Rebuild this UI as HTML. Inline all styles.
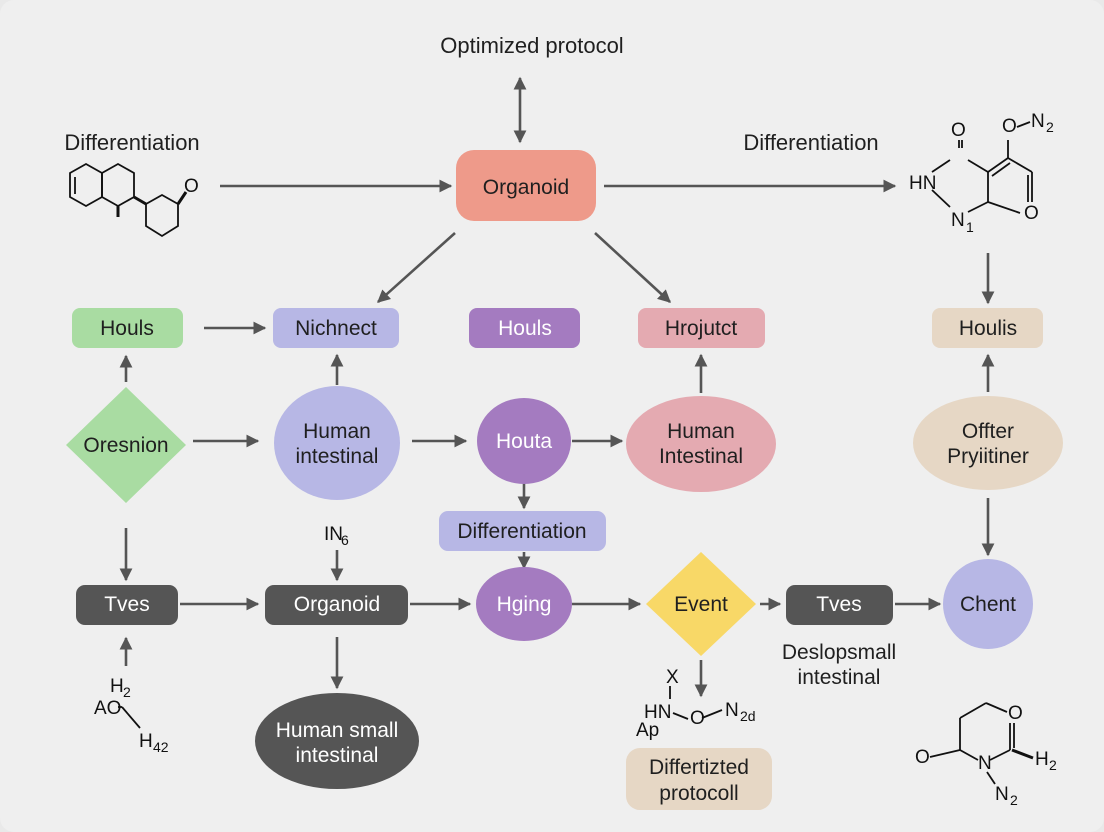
<!DOCTYPE html>
<html><head><meta charset="utf-8"><style>
html,body{margin:0;padding:0;background:#e9e9e9;}
svg{display:block;}
text{font-family:"Liberation Sans",sans-serif;}
</style></head><body>
<svg width="1104" height="832" viewBox="0 0 1104 832" xmlns="http://www.w3.org/2000/svg">
<defs>
<marker id="a" viewBox="0 0 10 10" refX="9" refY="5" markerWidth="5" markerHeight="5" orient="auto-start-reverse"><path d="M0,0 L10,5 L0,10 z" fill="#555"/></marker>
</defs>
<rect x="0" y="0" width="1104" height="832" rx="14" fill="#efefef"/>
<g stroke="#555" stroke-width="2.6" fill="none" marker-end="url(#a)">
<line x1="520" y1="78" x2="520" y2="142" marker-start="url(#a)"/>
<line x1="220" y1="186" x2="451" y2="186"/>
<line x1="604" y1="186" x2="895" y2="186"/>
<line x1="455" y1="233" x2="378" y2="302"/>
<line x1="595" y1="233" x2="670" y2="302"/>
<line x1="204" y1="328" x2="265" y2="328"/>
<line x1="988" y1="253" x2="988" y2="303"/>
<line x1="126" y1="382" x2="126" y2="356"/>
<line x1="337" y1="385" x2="337" y2="355"/>
<line x1="701" y1="393" x2="701" y2="355"/>
<line x1="988" y1="392" x2="988" y2="355"/>
<line x1="193" y1="441" x2="258" y2="441"/>
<line x1="412" y1="441" x2="466" y2="441"/>
<line x1="572" y1="441" x2="622" y2="441"/>
<line x1="524" y1="476" x2="524" y2="508"/>
<line x1="524" y1="552" x2="524" y2="568"/>
<line x1="126" y1="528" x2="126" y2="580"/>
<line x1="988" y1="498" x2="988" y2="555"/>
<line x1="337" y1="550" x2="337" y2="580"/>
<line x1="180" y1="604" x2="258" y2="604"/>
<line x1="410" y1="604" x2="470" y2="604"/>
<line x1="572" y1="604" x2="640" y2="604"/>
<line x1="760" y1="604" x2="780" y2="604"/>
<line x1="895" y1="604" x2="940" y2="604"/>
<line x1="126" y1="666" x2="126" y2="638"/>
<line x1="337" y1="637" x2="337" y2="688"/>
<line x1="701" y1="660" x2="701" y2="696"/>
</g>
<g font-size="22" fill="#1f1f1f" text-anchor="middle">
<text x="532" y="53">Optimized protocol</text>
<text x="132" y="150">Differentiation</text>
<text x="811" y="150">Differentiation</text>
</g>
<!-- nodes -->
<rect x="456" y="150" width="140" height="71" rx="18" fill="#ee9a8a"/>
<rect x="72" y="308" width="111" height="40" rx="8" fill="#a9dca2"/>
<rect x="273" y="308" width="126" height="40" rx="8" fill="#b7b7e5"/>
<rect x="469" y="308" width="111" height="40" rx="8" fill="#a47bc0"/>
<rect x="638" y="308" width="127" height="40" rx="8" fill="#e4aab1"/>
<rect x="932" y="308" width="111" height="40" rx="8" fill="#e6d7c5"/>
<polygon points="126,387 186,445 126,503 66,445" fill="#a9dca2"/>
<ellipse cx="337" cy="443" rx="63" ry="57" fill="#b7b7e5"/>
<ellipse cx="524" cy="441" rx="47" ry="43" fill="#a47bc0"/>
<ellipse cx="701" cy="444" rx="75" ry="48" fill="#e4aab1"/>
<ellipse cx="988" cy="443" rx="75" ry="47" fill="#e6d7c5"/>
<rect x="439" y="511" width="167" height="40" rx="9" fill="#b7b7e5"/>
<rect x="76" y="585" width="102" height="40" rx="9" fill="#555"/>
<rect x="265" y="585" width="143" height="40" rx="9" fill="#555"/>
<ellipse cx="524" cy="604" rx="48" ry="37" fill="#a47bc0"/>
<polygon points="701,552 756,604 701,656 646,604" fill="#f8d867"/>
<rect x="786" y="585" width="107" height="40" rx="9" fill="#555"/>
<circle cx="988" cy="604" r="45" fill="#b7b7e5"/>
<ellipse cx="337" cy="741" rx="82" ry="48" fill="#555"/>
<rect x="626" y="748" width="146" height="62" rx="14" fill="#e6d7c5"/>
<g font-size="21" text-anchor="middle" fill="#1f1f1f">
<text x="526" y="194">Organoid</text>
<text x="127" y="335">Houls</text>
<text x="336" y="335">Nichnect</text>
<text x="525" y="335" fill="#fff">Houls</text>
<text x="701" y="335">Hrojutct</text>
<text x="988" y="335">Houlis</text>
<text x="126" y="452">Oresnion</text>
<text x="337" y="438">Human</text><text x="337" y="463">intestinal</text>
<text x="524" y="448" fill="#fff">Houta</text>
<text x="701" y="438">Human</text><text x="701" y="463">Intestinal</text>
<text x="988" y="438">Offter</text><text x="988" y="463">Pryiitiner</text>
<text x="522" y="538">Differentiation</text>
<text x="127" y="611" fill="#fff">Tves</text>
<text x="337" y="611" fill="#fff">Organoid</text>
<text x="524" y="611" fill="#fff">Hging</text>
<text x="701" y="611">Event</text>
<text x="839" y="611" fill="#fff">Tves</text>
<text x="988" y="611">Chent</text>
<text x="839" y="659">Deslopsmall</text><text x="839" y="684">intestinal</text>
<text x="337" y="737" fill="#fff">Human small</text><text x="337" y="762" fill="#fff">intestinal</text>
<text x="699" y="774">Differtizted</text><text x="699" y="800">protocoll</text>
</g>
<!-- chem labels -->
<g font-size="19" fill="#111">
<text x="324" y="540">IN</text><text x="341" y="545" font-size="14">6</text>
<text x="110" y="692">H</text><text x="123" y="697" font-size="14">2</text>
<text x="94" y="714">AO</text>
<text x="139" y="747">H</text><text x="153" y="752" font-size="14">42</text>
<text x="666" y="683">X</text>
<text x="644" y="718">HN</text>
<text x="690" y="724">O</text>
<text x="725" y="716">N</text><text x="740" y="721" font-size="14">2d</text>
<text x="636" y="736">Ap</text>
<text x="184" y="192">O</text>
<text x="951" y="136">O</text>
<text x="1002" y="132">O</text><text x="1031" y="127">N</text><text x="1046" y="132" font-size="14">2</text>
<text x="909" y="189">HN</text>
<text x="951" y="226">N</text><text x="966" y="232" font-size="14">1</text>
<text x="1024" y="219">O</text>
<text x="915" y="763">O</text>
<text x="1008" y="719">O</text>
<text x="978" y="769">N</text>
<text x="1035" y="765">H</text><text x="1049" y="770" font-size="14">2</text>
<text x="995" y="800">N</text><text x="1010" y="805" font-size="14">2</text>
</g>
<g stroke="#111" stroke-width="1.8" fill="none">
<polygon points="70,173 86,164 102,173 102,197 86,206 70,197"/>
<line x1="75" y1="177" x2="75" y2="194"/>
<polygon points="102,173 118,164 134,173 134,197 118,206 102,197"/>
<line x1="118" y1="206" x2="118" y2="217" stroke-width="3"/>
<line x1="134" y1="197" x2="146" y2="204" stroke-width="3"/>
<polygon points="146,204 162,195 178,204 178,226 162,236 146,226"/>
<line x1="178" y1="204" x2="186" y2="192" stroke-width="3"/>
<line x1="959" y1="140" x2="959" y2="148"/>
<line x1="962" y1="140" x2="962" y2="148"/>
<line x1="932" y1="172" x2="950" y2="160"/>
<line x1="932" y1="190" x2="950" y2="207"/>
<line x1="968" y1="160" x2="988" y2="172"/>
<line x1="988" y1="172" x2="1008" y2="158"/>
<line x1="992" y1="176" x2="1010" y2="163"/>
<line x1="1008" y1="158" x2="1008" y2="140"/>
<line x1="1008" y1="158" x2="1032" y2="172"/>
<line x1="1032" y1="172" x2="1032" y2="202"/>
<line x1="1028" y1="175" x2="1028" y2="202"/>
<line x1="988" y1="172" x2="988" y2="202"/>
<line x1="968" y1="212" x2="988" y2="202"/>
<line x1="988" y1="202" x2="1020" y2="213"/>
<line x1="1017" y1="127" x2="1030" y2="122"/>
<line x1="670" y1="686" x2="670" y2="699"/>
<line x1="673" y1="713" x2="688" y2="719"/>
<line x1="702" y1="718" x2="722" y2="710"/>
<line x1="118" y1="707" x2="122" y2="707"/><line x1="122" y1="707" x2="140" y2="728"/>
<line x1="930" y1="757" x2="960" y2="750"/>
<line x1="960" y1="750" x2="960" y2="718"/>
<line x1="960" y1="718" x2="986" y2="703"/>
<line x1="986" y1="703" x2="1007" y2="712"/>
<line x1="960" y1="750" x2="978" y2="760"/>
<line x1="990" y1="760" x2="1010" y2="750"/>
<line x1="1010" y1="750" x2="1010" y2="723"/>
<line x1="1014" y1="748" x2="1014" y2="723"/>
<line x1="1012" y1="750" x2="1033" y2="758" stroke-width="3"/>
<line x1="987" y1="772" x2="995" y2="784"/>
</g>
</svg>
</body></html>
